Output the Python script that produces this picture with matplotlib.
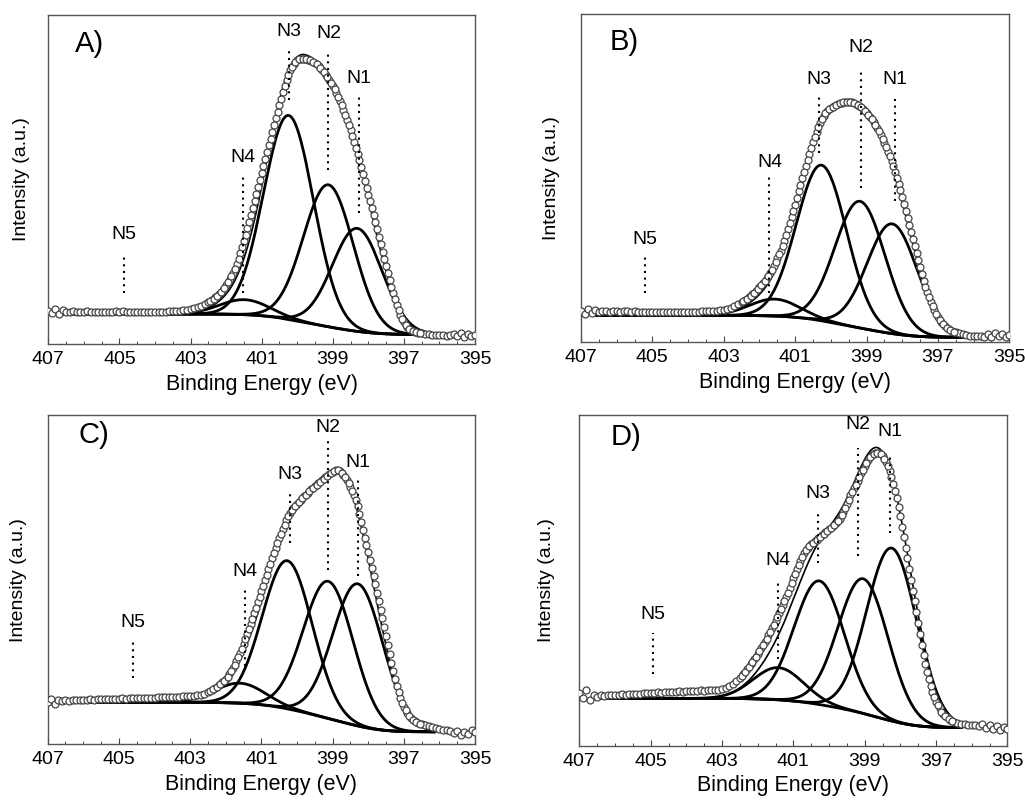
import numpy as np
import matplotlib.pyplot as plt

plt.rcParams['font.family'] = ['Liberation Sans', 'DejaVu Sans']

# measured N1s spectra, binding energy grid 407 -> 395 eV in 0.1 eV steps
energy = np.round(np.arange(407.0, 394.95, -0.1), 2)
# extra points recorded between those steps on the peak (402.45 -> 396.55 eV)
energy_mid = np.round(np.arange(402.45, 396.5, -0.1), 2)

int_a = [33, 31, 35, 30, 34, 32, 32, 33, 32, 32,
         32, 33, 32, 32, 32, 32, 32, 32, 32, 33,
         32, 33, 32, 32, 32, 32, 32, 32, 32, 32,
         32, 32, 32, 32, 33, 33, 33, 33, 34, 34,
         35, 36, 37, 38, 40, 42, 44, 47, 50, 54,
         59, 65, 71, 80, 91, 103, 116, 129, 143, 157,
         171, 185, 199, 212, 226, 239, 252, 264, 274, 280,
         284, 285, 285, 284, 283, 281, 278, 274, 269, 264,
         258, 251, 243, 234, 224, 214, 202, 190, 177, 163,
         149, 136, 122, 107, 92, 78, 64, 51, 39, 29,
         22, 17, 14, 12, 11, 11, 10, 10, 9, 9,
         9, 9, 8, 9, 10, 8, 11, 7, 10, 8,
         9]
mid_a = [43, 45, 48, 52, 56,
         62, 68, 75, 85, 97, 109, 122, 136, 150, 164,
         178, 192, 205, 219, 232, 245, 258, 269, 277, 282,
         285, 285, 285, 284, 282, 280, 276, 272, 267, 261,
         255, 247, 239, 229, 219, 208, 196, 184, 170, 156,
         143, 129, 115, 100, 85, 71, 57, 45, 34, 25,
         19, 15, 13, 12, 11]

int_b = [31, 28, 33, 29, 32, 30, 31, 31, 30, 31,
         31, 30, 31, 31, 30, 31, 30, 30, 30, 30,
         30, 30, 30, 30, 30, 30, 30, 30, 30, 30,
         30, 30, 30, 30, 31, 31, 31, 31, 31, 32,
         32, 33, 34, 36, 38, 40, 42, 45, 48, 51,
         55, 59, 64, 69, 76, 84, 92, 102, 114, 126,
         138, 152, 165, 177, 189, 201, 211, 220, 227, 232,
         235, 237, 239, 240, 241, 241, 241, 239, 237, 234,
         230, 226, 221, 215, 208, 200, 191, 182, 171, 159,
         146, 132, 118, 104, 89, 75, 61, 50, 40, 32,
         25, 20, 16, 13, 11, 10, 9, 8, 7, 6,
         6, 6, 6, 5, 8, 5, 9, 6, 8, 5,
         7]
mid_b = [41, 43, 46, 49, 53,
         57, 61, 66, 72, 80, 88, 97, 108, 120, 132,
         145, 158, 171, 183, 195, 206, 216, 224, 230, 234,
         236, 238, 240, 241, 241, 241, 240, 238, 236, 232,
         228, 224, 218, 212, 204, 196, 187, 177, 165, 153,
         139, 125, 111, 97, 82, 68, 55, 45, 36, 28,
         22, 18, 14, 12, 10]

int_c = [42, 45, 40, 44, 43, 44, 43, 44, 44, 44,
         44, 44, 45, 44, 45, 45, 45, 45, 45, 45,
         45, 46, 45, 46, 46, 46, 46, 46, 46, 46,
         46, 47, 47, 47, 47, 47, 47, 47, 48, 48,
         48, 48, 49, 49, 50, 52, 54, 56, 59, 62,
         65, 70, 76, 83, 91, 100, 110, 120, 131, 142,
         153, 164, 175, 186, 196, 206, 215, 224, 231, 236,
         240, 244, 248, 251, 255, 258, 261, 264, 267, 270,
         272, 274, 273, 269, 264, 257, 249, 238, 222, 206,
         192, 176, 160, 143, 126, 108, 90, 73, 58, 46,
         37, 31, 26, 23, 21, 20, 19, 18, 17, 16,
         15, 14, 14, 13, 11, 13, 9, 12, 10, 14,
         12]
mid_c = [53, 55, 57, 60, 63,
         67, 73, 79, 87, 95, 105, 115, 125, 136, 147,
         158, 169, 180, 191, 201, 210, 219, 228, 234, 238,
         242, 246, 249, 253, 256, 259, 262, 265, 268, 271,
         273, 274, 271, 267, 261, 253, 244, 230, 214, 199,
         184, 168, 151, 134, 117, 99, 81, 65, 52, 41,
         34, 28, 24, 22, 20]

int_d = [52, 47, 55, 45, 50, 48, 50, 49, 50, 50,
         50, 50, 51, 50, 51, 51, 51, 51, 52, 52,
         52, 52, 53, 52, 53, 53, 53, 53, 54, 53,
         54, 54, 54, 54, 55, 54, 55, 55, 55, 55,
         56, 57, 59, 61, 64, 67, 71, 76, 81, 86,
         91, 97, 103, 110, 117, 124, 132, 140, 148, 157,
         167, 176, 184, 192, 197, 201, 204, 207, 210, 213,
         216, 219, 222, 226, 232, 240, 249, 256, 263, 271,
         278, 284, 289, 291, 291, 288, 282, 273, 260, 246,
         228, 208, 187, 165, 144, 122, 100, 81, 66, 53,
         43, 37, 32, 29, 26, 24, 23, 22, 22, 21,
         21, 21, 20, 22, 18, 21, 17, 20, 16, 19,
         17]
mid_d = [69, 73, 78, 83, 88,
         94, 100, 106, 113, 120, 128, 136, 144, 152, 162,
         171, 180, 188, 195, 199, 202, 205, 208, 211, 214,
         217, 220, 224, 229, 236, 244, 252, 259, 267, 274,
         281, 287, 290, 291, 290, 285, 278, 267, 253, 237,
         218, 197, 176, 154, 133, 111, 90, 73, 59, 48,
         40, 34, 30, 27, 25]

# fitted components N1..N4: centre (eV) and height above background
centres_a = [398.31, 399.12, 400.24, 401.48]
heights_a = [103, 142, 204, 15]
centres_b = [398.28, 399.18, 400.26, 401.57]
heights_b = [110, 127, 156, 17]
centres_c = [398.29, 399.12, 400.27, 401.60]
heights_c = [142, 137, 148, 20]
centres_d = [398.24, 399.04, 400.27, 401.42]
heights_d = [172, 134, 123, 32]
fwhm = 1.65

# Shirley background end levels (high BE side, low BE side) and fit window
bg_a = (30, 9.5)
bg_b = (27, 5)
bg_c = (42, 12.5)
bg_d = (47, 18)
window_a = (406.7, 396.0)
window_b = (406.55, 395.9)
window_c = (406.65, 396.15)
window_d = (406.45, 396.3)

# peak markers: name, energy, text y, dotted line top, dotted line bottom
marks_a = [('N1', 398.27, 257, 247, 131), ('N2', 399.12, 302, 291, 174),
           ('N3', 400.24, 304, 294, 244), ('N4', 401.52, 178, 171, 51),
           ('N5', 404.87, 101, 91, 51)]
marks_b = [('N1', 398.20, 255, 245, 142), ('N2', 399.15, 287, 272, 155),
           ('N3', 400.33, 255, 247, 190), ('N4', 401.72, 172, 166, 49),
           ('N5', 405.20, 95, 89, 49)]
marks_c = [('N1', 398.28, 273, 264, 168), ('N2', 399.12, 308, 303, 174),
           ('N3', 400.21, 261, 254, 201), ('N4', 401.46, 164, 156, 78),
           ('N5', 404.61, 113, 106, 66)]
marks_d = [('N1', 398.30, 304, 289, 212), ('N2', 399.20, 311, 296, 189),
           ('N3', 400.30, 242, 234, 182), ('N4', 401.44, 176, 166, 86),
           ('N5', 404.93, 122, 112, 71)]

panels = [
    ('A)', int_a, mid_a, centres_a, heights_a, bg_a, window_a, marks_a,
     [0.0471, 0.5753, 0.4163, 0.4062], (0.063, 0.955), -0.043),
    ('B)', int_b, mid_b, centres_b, heights_b, bg_b, window_b, marks_b,
     [0.5668, 0.5774, 0.4179, 0.4053], (0.068, 0.958), -0.049),
    ('C)', int_c, mid_c, centres_c, heights_c, bg_c, window_c, marks_c,
     [0.0465, 0.0811, 0.4170, 0.4065], (0.071, 0.982), -0.048),
    ('D)', int_d, mid_d, centres_d, heights_d, bg_d, window_d, marks_d,
     [0.5652, 0.0794, 0.4176, 0.4083], (0.072, 0.975), -0.057),
]

fig = plt.figure(figsize=(10.25, 8.1), dpi=100)

for letter, inten, mid, cen, hgt, bg, win, marks, rect, lpos, ylx in panels:
    ax = fig.add_axes(rect)

    # fit model: gaussians on a Shirley-type background
    e = np.linspace(win[1], win[0], 600)
    sig = fwhm / 2.3548
    comps = [h * np.exp(-0.5 * ((e - c) / sig) ** 2) for c, h in zip(cen, hgt)]
    total = np.sum(comps, axis=0)
    frac = np.cumsum(total) / np.sum(total)
    back = bg[1] + (bg[0] - bg[1]) * frac

    ax.plot(e, back, color='k', lw=2.0, zorder=2)
    for comp in comps:
        ax.plot(e, back + comp, color='k', lw=2.0, zorder=2)
    ax.plot(e, back + total, color='k', lw=1.2, zorder=2.5)

    xs = np.concatenate([energy, energy_mid])
    ys = np.concatenate([inten, mid])
    ax.plot(xs, ys, 'o', ms=5.0, mfc='white', mec='#444444',
            mew=0.9, zorder=3)

    for name, x, ty, top, bot in marks:
        ax.plot([x, x], [bot, top], color='k', lw=1.5,
                ls=(0, (1, 2.2)), zorder=4)
        ax.text(x, ty, name, ha='center', va='bottom', fontsize=14)

    ax.text(lpos[0], lpos[1], letter, transform=ax.transAxes,
            ha='left', va='top', fontsize=21)

    ax.set_xlim(407, 395)
    ax.set_ylim(0, 329)
    ax.set_xticks(np.arange(407, 394, -2))
    ax.set_xticks(np.arange(407, 394.9, -0.5), minor=True)
    ax.set_yticks([])
    ax.tick_params(axis='x', which='major', direction='in', length=4,
                   width=0.8, labelsize=14, color='#444', pad=5)
    ax.tick_params(axis='x', which='minor', direction='in', length=2.5,
                   width=0.7, color='#444')
    for sp in ax.spines.values():
        sp.set_color('#555')
        sp.set_linewidth(1.0)
    ax.set_xlabel('Binding Energy (eV)', fontsize=15.5, labelpad=4)
    ax.set_ylabel('Intensity (a.u.)', fontsize=14)
    ax.yaxis.set_label_coords(ylx, 0.5)

fig.savefig('out.png', dpi=100, facecolor='white')
